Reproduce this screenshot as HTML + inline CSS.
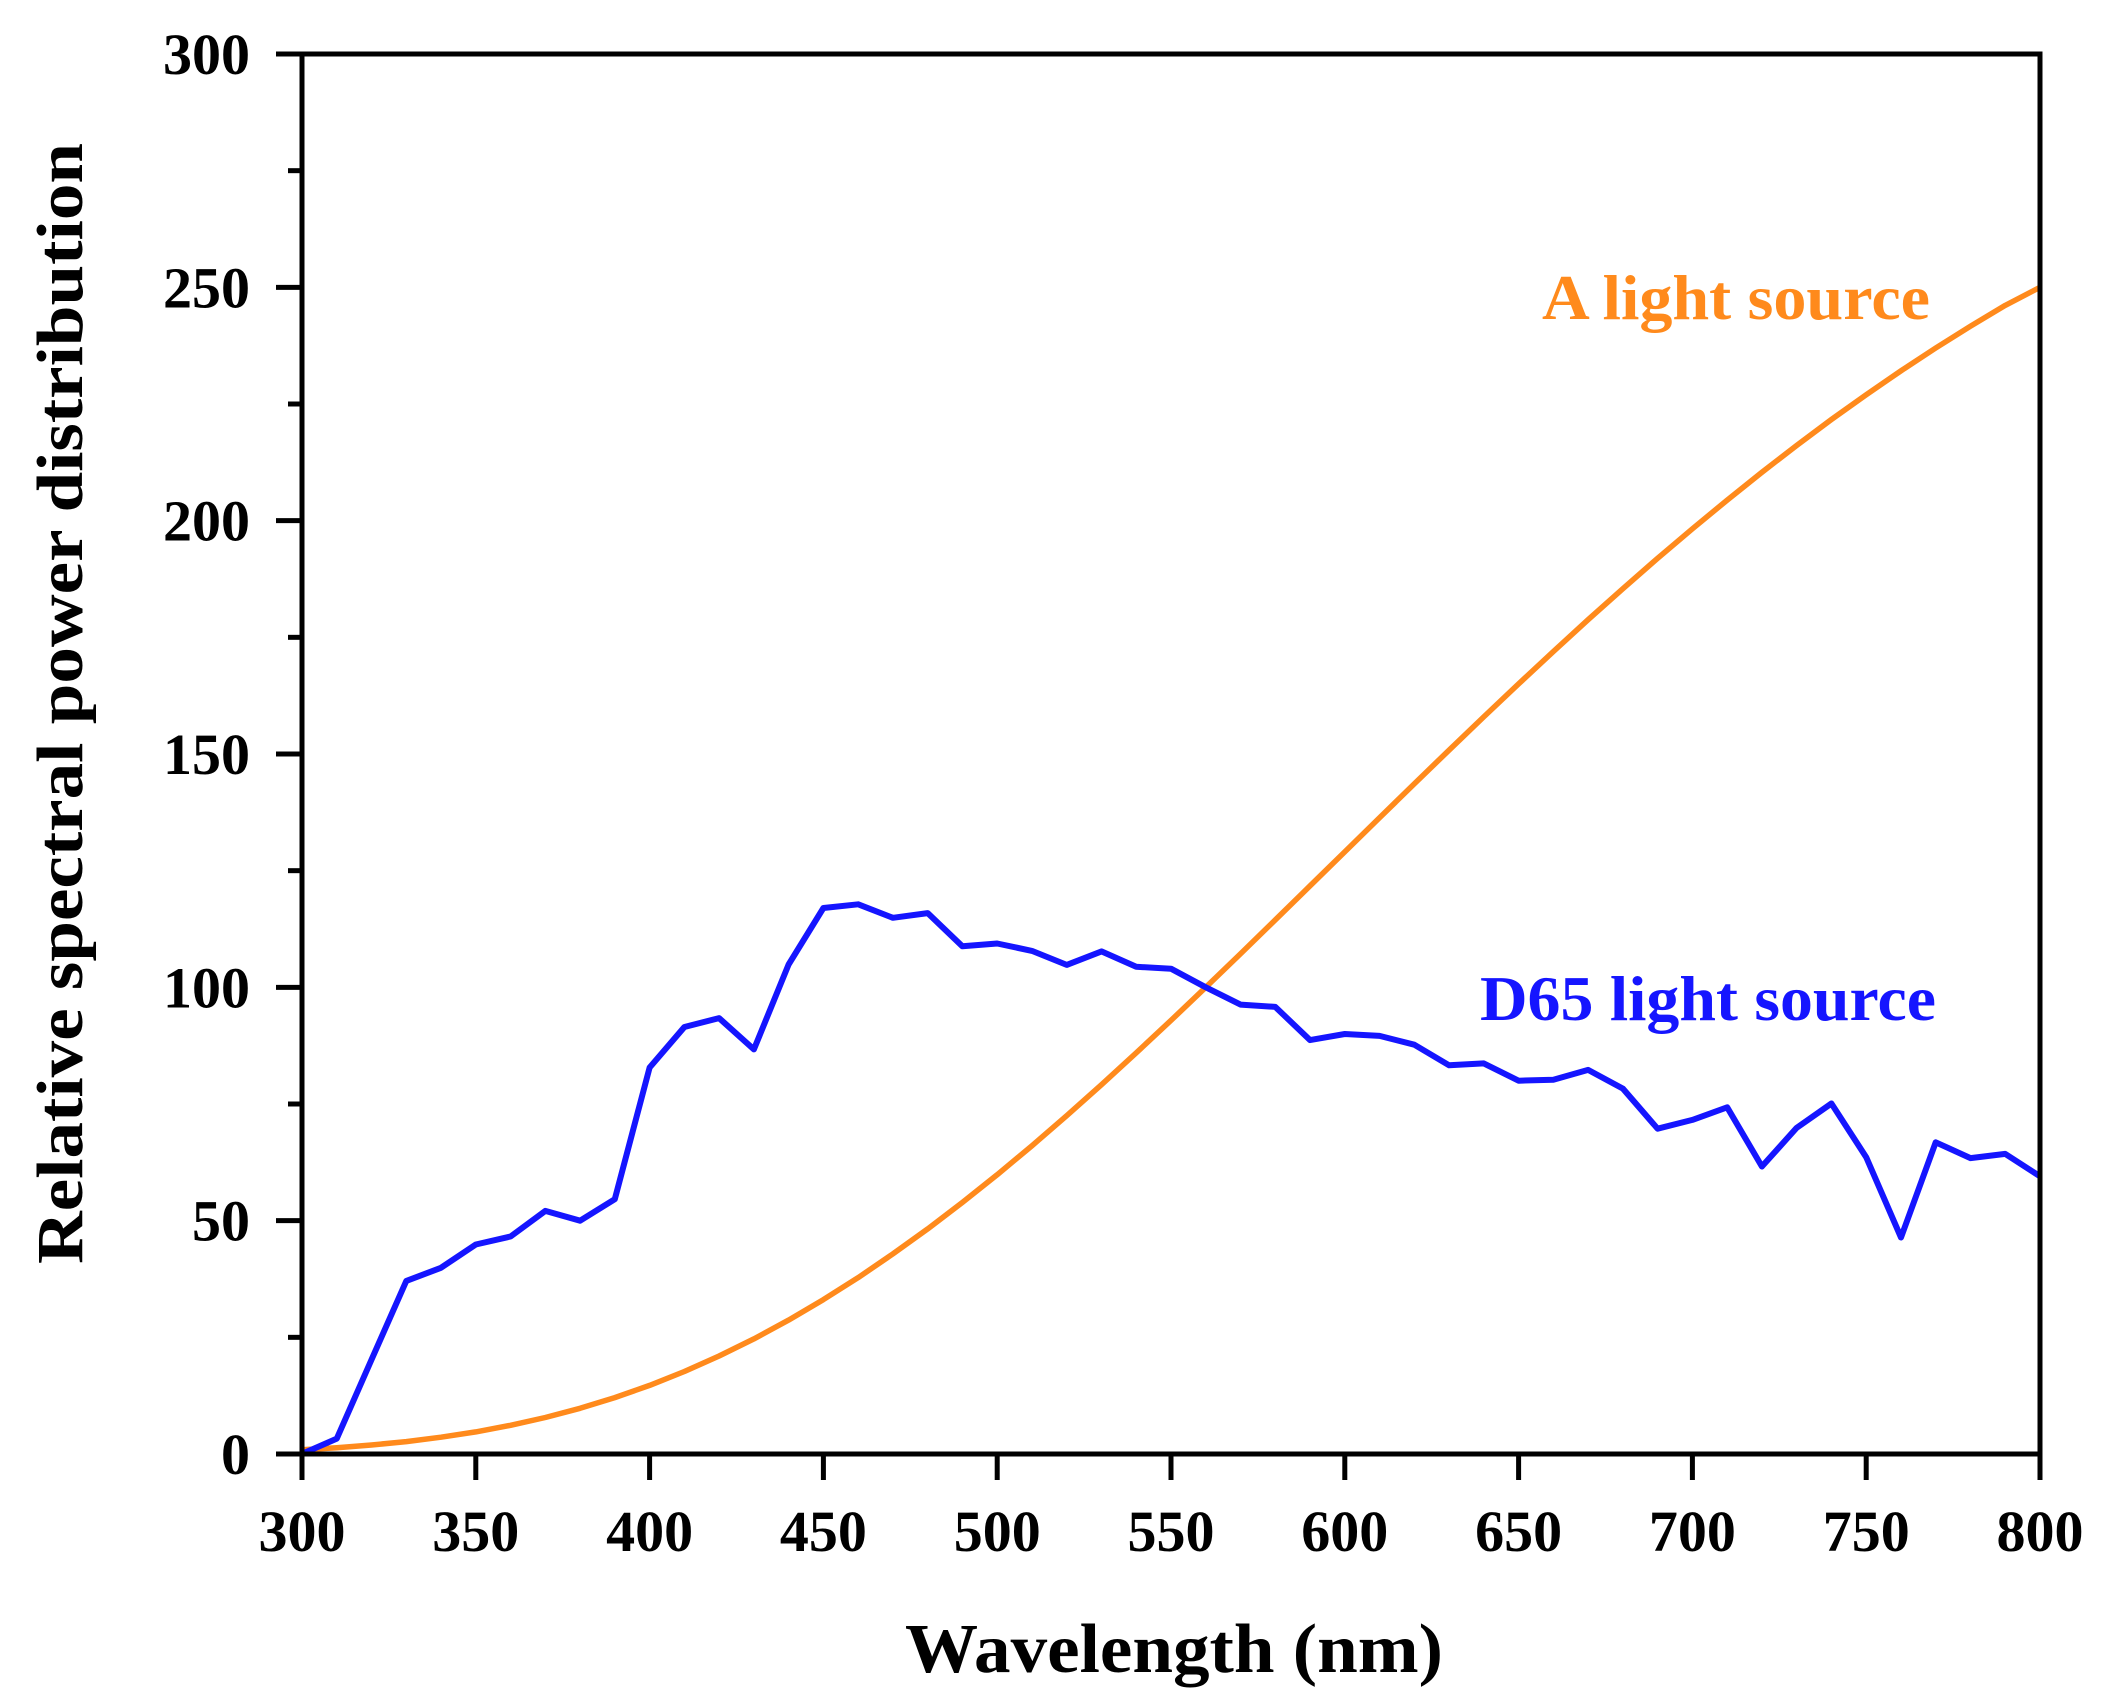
<!DOCTYPE html>
<html><head><meta charset="utf-8"><style>
html,body{margin:0;padding:0;background:#fff;}
svg{display:block;font-family:"Liberation Serif",serif;font-weight:bold;}
</style></head><body>
<svg id="chart" width="2117" height="1699" viewBox="0 0 2117 1699" xmlns="http://www.w3.org/2000/svg">
<rect width="2117" height="1699" fill="#fff"/>
<g id="series"></g>
<g id="axes"></g>
<text x="1542" y="319" font-size="64" fill="#ff8a1c" textLength="388" lengthAdjust="spacingAndGlyphs">A light source</text>
<text x="1480" y="1020" font-size="64" fill="#1515ff" textLength="456" lengthAdjust="spacingAndGlyphs">D65 light source</text>
<text x="905" y="1672" font-size="70" fill="#000" textLength="538" lengthAdjust="spacingAndGlyphs">Wavelength (nm)</text>
<text transform="translate(82,1264) rotate(-90)" x="0" y="0" font-size="66" fill="#000" textLength="1121" lengthAdjust="spacingAndGlyphs">Relative spectral power distribution</text>
</svg>
<script>
const wavelengths = [300,310,320,330,340,350,360,370,380,390,400,410,420,430,440,450,460,470,480,490,500,510,520,530,540,550,560,570,580,590,600,610,620,630,640,650,660,670,680,690,700,710,720,730,740,750,760,770,780,790,800];
const d65Values = [0.03,3.3,20.2,37.1,39.9,44.9,46.6,52.1,50.0,54.6,82.8,91.5,93.4,86.7,104.9,117.0,117.8,114.9,115.9,108.8,109.4,107.8,104.8,107.7,104.4,104.0,100.0,96.3,95.8,88.7,90.0,89.6,87.7,83.3,83.7,80.0,80.2,82.3,78.3,69.7,71.6,74.3,61.6,69.9,75.1,63.6,46.4,66.8,63.4,64.3,59.5];
const aValues = [0.93,1.36,1.93,2.66,3.59,4.74,6.14,7.82,9.80,12.09,14.71,17.68,20.99,24.67,28.70,33.09,37.81,42.87,48.24,53.91,59.86,66.06,72.50,79.13,85.95,92.91,100,107.18,114.44,121.73,129.04,136.35,143.62,150.84,157.98,165.03,171.96,178.77,185.43,191.93,198.26,204.41,210.36,216.12,221.67,227.00,232.12,237.01,241.68,246.12,250];
const xTicks = [300,350,400,450,500,550,600,650,700,750,800];
const yTicks = [0,50,100,150,200,250,300];
const yMinorTicks = [25,75,125,175,225,275];

const L=302,R=2040,T=54,B=1454;
const xMin=300,xMax=800,yMin=0,yMax=300;
function sx(v){return L+(v-xMin)/(xMax-xMin)*(R-L);}
function sy(v){return B-(v-yMin)/(yMax-yMin)*(B-T);}
const NS='http://www.w3.org/2000/svg';
const series=document.getElementById('series');
const axes=document.getElementById('axes');

function makeLine(vals,color,w,name){
  const p=document.createElementNS(NS,'polyline');
  p.setAttribute('points',wavelengths.map((x,i)=>sx(x).toFixed(1)+','+sy(vals[i]).toFixed(1)).join(' '));
  p.setAttribute('fill','none');p.setAttribute('stroke',color);p.setAttribute('stroke-width',w);
  p.setAttribute('stroke-linejoin','round');
  
  
  series.appendChild(p);
}
makeLine(aValues,'#ff8a1c',5.5,'a-light-source-line');
makeLine(d65Values,'#1515ff',6,'d65-light-source-line');

const frame=document.createElementNS(NS,'rect');
frame.setAttribute('x',L);frame.setAttribute('y',T);frame.setAttribute('width',R-L);frame.setAttribute('height',B-T);
frame.setAttribute('fill','none');frame.setAttribute('stroke','#000');frame.setAttribute('stroke-width',5);


axes.appendChild(frame);

function tick(x1,y1,x2,y2,name){
  const l=document.createElementNS(NS,'line');
  l.setAttribute('x1',x1);l.setAttribute('y1',y1);l.setAttribute('x2',x2);l.setAttribute('y2',y2);
  l.setAttribute('stroke','#000');l.setAttribute('stroke-width',5);
  
  
  axes.appendChild(l);
}
function label(x,y,txt,anchor,name){
  const t=document.createElementNS(NS,'text');
  t.setAttribute('x',x);t.setAttribute('y',y);t.setAttribute('text-anchor',anchor);
  t.setAttribute('font-size',58);t.setAttribute('fill','#000');
  t.textContent=txt;
  
  
  axes.appendChild(t);
}
xTicks.forEach(v=>{
  tick(sx(v),B,sx(v),B+26,'x-tick');
  label(sx(v),B+97,String(v),'middle','x-tick-label');
});
yTicks.forEach(v=>{
  tick(L-26,sy(v),L,sy(v),'y-tick');
  label(L-52,sy(v)+20,String(v),'end','y-tick-label');
});
yMinorTicks.forEach(v=>{
  tick(L-14,sy(v),L,sy(v),'y-minor-tick');
});
</script>
</body></html>
